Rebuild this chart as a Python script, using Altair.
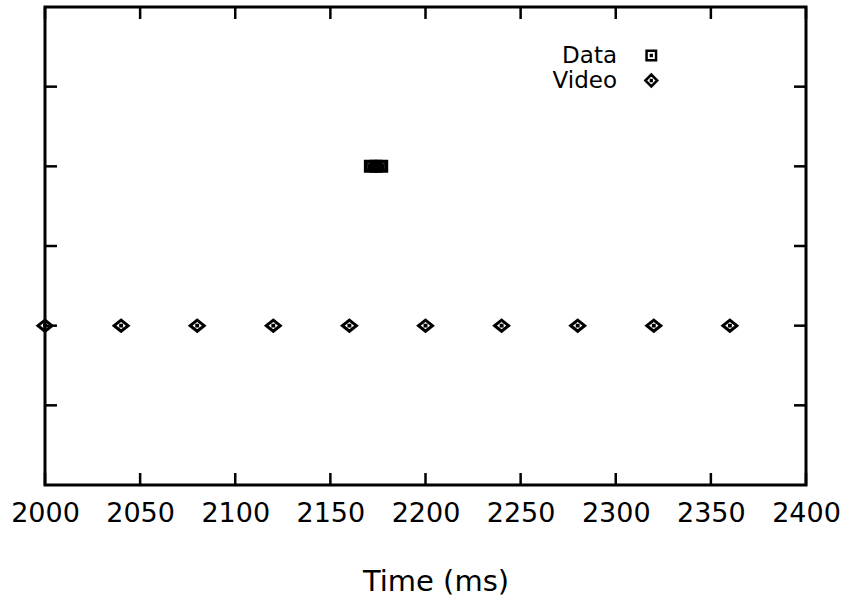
import altair as alt
import pandas as pd

# ---- data ----
video_x = [2000, 2040, 2080, 2120, 2160, 2200, 2240, 2280, 2320, 2360]
video_y = [2, 2, 2, 2, 2, 2, 2, 2, 2, 2]
data_x = [2171, 2174, 2177]
data_y = [4, 4, 4]
x_ticks = [2000, 2050, 2100, 2150, 2200, 2250, 2300, 2350, 2400]
y_ticks = [1, 2, 3, 4, 5]
series_names = ["Data", "Video"]

W, H = 761, 478
TICK = 12
FONT = "DejaVu Sans"

# marker outlines (unit symbol space), each with a small centre dot
SQUARE = "M-1,-1H1V1H-1Z M-0.08,-0.08H0.08V0.08H-0.08Z"
DIAMOND = "M-1.25,0L0,-1L1.25,0L0,1Z M-0.08,-0.08H0.08V0.08H-0.08Z"
# legend versions: same outlines drawn to the right of their labels
LEG_SQUARE = "M9.5,-1H11.5V1H9.5Z M10.42,-0.08H10.58V0.08H10.42Z"
LEG_DIAMOND = "M9.25,0L10.5,-1.25L11.75,0L10.5,1.25Z M10.42,-0.08H10.58V0.08H10.42Z"

points = pd.DataFrame({
    "time": data_x + video_x,
    "value": data_y + video_y,
    "series": ["Data"] * len(data_x) + ["Video"] * len(video_x),
})
data_df = pd.DataFrame({"time": data_x, "value": data_y})
video_df = pd.DataFrame({"time": video_x, "value": video_y})
xt = pd.DataFrame({"time": x_ticks})
yt = pd.DataFrame({"value": y_ticks})

xscale = alt.Scale(domain=[2000, 2400], nice=False, zero=False)
yscale = alt.Scale(domain=[0, 6], nice=False, zero=False)

x_main = alt.X(
    "time:Q", scale=xscale,
    axis=alt.Axis(values=x_ticks, format="d", labelFontSize=27, labelFont=FONT,
                  labelColor="black", labelFlush=False, labelOverlap=False,
                  ticks=False, domain=False, grid=False,
                  labelPadding=15, title="Time (ms)", titleFontSize=29,
                  titleFont=FONT, titleFontWeight="normal", titleColor="black",
                  titlePadding=41, titleX=W / 2 + 10),
)
y_main = alt.Y("value:Q", scale=yscale, axis=None)

# invisible layer that only carries the legend
legend_layer = alt.Chart(points).mark_point(filled=False, opacity=0, size=90).encode(
    x=x_main,
    y=y_main,
    shape=alt.Shape(
        "series:N",
        scale=alt.Scale(domain=series_names, range=[LEG_SQUARE, LEG_DIAMOND]),
        legend=alt.Legend(
            title=None, orient="none", legendX=545, legendY=37,
            labelAlign="right", labelFontSize=23, labelFont=FONT,
            labelColor="black", symbolSize=90, symbolStrokeWidth=2.5,
            symbolStrokeColor="black", symbolFillColor="white",
            symbolOpacity=1, rowPadding=1,
        ),
    ),
)

data_layer = alt.Chart(data_df).mark_point(
    shape=SQUARE, filled=False, size=80, strokeWidth=4, color="black", opacity=1
).encode(x=alt.X("time:Q", scale=xscale), y=alt.Y("value:Q", scale=yscale))

video_layer = alt.Chart(video_df).mark_point(
    shape=DIAMOND, filled=False, size=125, strokeWidth=3, color="black", opacity=1
).encode(x=alt.X("time:Q", scale=xscale), y=alt.Y("value:Q", scale=yscale))

rule_style = dict(color="black", strokeWidth=2.5)
bottom_ticks = alt.Chart(xt).mark_rule(**rule_style).encode(
    x=alt.X("time:Q", scale=xscale), y=alt.value(H), y2=alt.value(H - TICK))
top_ticks = alt.Chart(xt).mark_rule(**rule_style).encode(
    x=alt.X("time:Q", scale=xscale), y=alt.value(0), y2=alt.value(TICK))
left_ticks = alt.Chart(yt).mark_rule(**rule_style).encode(
    y=alt.Y("value:Q", scale=yscale), x=alt.value(0), x2=alt.value(TICK))
right_ticks = alt.Chart(yt).mark_rule(**rule_style).encode(
    y=alt.Y("value:Q", scale=yscale), x=alt.value(W - TICK), x2=alt.value(W))

chart = alt.layer(
    legend_layer, data_layer, video_layer, bottom_ticks, top_ticks, left_ticks, right_ticks
).properties(
    width=W, height=H,
    autosize=alt.AutoSizeParams(type="none"),
    padding={"left": 45, "top": 7, "right": 42, "bottom": 124},
    background="white",
).configure_view(stroke="black", strokeWidth=3)

chart.save("out.html", embed_options={"renderer": "svg", "actions": False})
